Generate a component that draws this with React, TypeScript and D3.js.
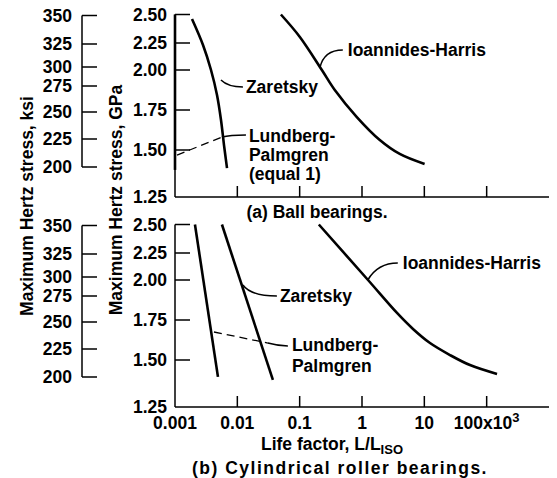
import React from "react";
import * as d3 from "d3";

const W = 557;
const H = 478;

// Axis ticks
const lifeTicks = [0.001, 0.01, 0.1, 1, 10, 100];
const lifeTickLabels = ["0.001", "0.01", "0.1", "1", "10", "100x10"];
const gpaTicks = [1.25, 1.5, 1.75, 2.0, 2.25, 2.5];
const gpaTickLabels = ["1.25", "1.50", "1.75", "2.00", "2.25", "2.50"];
const ksiTicks = [200, 225, 250, 275, 300, 325, 350];

// (a) Ball bearings
const ballZaretskyLife = [0.001874, 0.002813, 0.003781, 0.004719, 0.00547, 0.00611, 0.00683];
const ballZaretskyStress = [2.46, 2.231, 2.0, 1.844, 1.6875, 1.531, 1.404];
const ballLPLife = [0.001, 0.001];
const ballLPStress = [2.5, 1.394];
const ballIHLife = [0.05, 0.1007, 0.227, 0.366, 0.826, 1.93, 4.03, 10.1];
const ballIHStress = [2.5, 2.303, 2.0, 1.875, 1.706, 1.5625, 1.479, 1.4255];

// (b) Cylindrical roller bearings
const rollerLPLife = [0.00209, 0.00489];
const rollerLPStress = [2.5, 1.41];
const rollerZaretskyLife = [0.00566, 0.0372];
const rollerZaretskyStress = [2.5, 1.394];
const rollerIHLife = [0.203, 1.249, 3.645, 6.58, 12.33, 25.8, 54.0, 146.6];
const rollerIHStress = [2.5, 2.0, 1.794, 1.694, 1.606, 1.531, 1.473, 1.426];

type Pt = [number, number];
type Note = { dash?: Pt[]; solid: Pt[]; textAt: number; lines: [string, number][] };

const ballNotes: Note[] = [
  { solid: [[0.00546, 1.9375], [0.00707, 1.894], [0.01229, 1.894]], textAt: 0.01374, lines: [["Zaretsky", 1.894]] },
  {
    dash: [[0.001077, 1.473], [0.00566, 1.581]],
    solid: [[0.00566, 1.581], [0.00761, 1.594], [0.01374, 1.594]],
    textAt: 0.01534,
    lines: [["Lundberg-", 1.5906], ["Palmgren", 1.4734], ["(equal 1)", 1.3697]],
  },
  { solid: [[0.2108, 2.019], [0.2443, 2.185], [0.4922, 2.185]], textAt: 0.5922, lines: [["Ioannides-Harris", 2.185]] },
];

const rollerNotes: Note[] = [
  { solid: [[1.239, 2.0], [1.79, 2.157], [3.75, 2.157]], textAt: 4.51, lines: [["Ioannides-Harris", 2.157]] },
  { solid: [[0.01229, 1.969], [0.0165, 1.9], [0.04311, 1.9]], textAt: 0.04816, lines: [["Zaretsky", 1.9]] },
  {
    dash: [[0.004217, 1.675], [0.0309, 1.606]],
    solid: [[0.0309, 1.606], [0.04473, 1.588], [0.0647, 1.588]],
    textAt: 0.075,
    lines: [["Lundberg-", 1.591], ["Palmgren", 1.4707]],
  },
];

const FONT = "'Liberation Sans', Arial, Helvetica, sans-serif";
const FS = 17.5;

const xScale = d3.scaleLog().domain([0.001, 1000]).range([175, 549]);
const yScale = d3.scaleLinear().domain(gpaTicks).range([197, 150, 110, 70, 43, 14.5]);
const ksiScale = d3.scaleLinear().domain(ksiTicks).range([167, 139, 112, 86, 67, 44, 15.5]);

const line = d3
  .line<Pt>()
  .x((d) => xScale(d[0]))
  .y((d) => yScale(d[1]))
  .curve(d3.curveCatmullRom.alpha(0.5));

const zip = (a: number[], b: number[]): Pt[] => a.map((v, i) => [v, b[i]]);

function Panel({ offset, series, notes, showXLabels }: { offset: number; series: Pt[][]; notes: Note[]; showXLabels: boolean }) {
  const [x0, x1] = xScale.range();
  const yBottom = yScale(gpaTicks[0]);
  const yTop = yScale(gpaTicks[gpaTicks.length - 1]);
  const px = (p: Pt) => `${xScale(p[0])},${yScale(p[1])}`;
  return (
    <g transform={`translate(0,${offset})`}>
      {/* ksi axis */}
      <line x1={82} x2={82} y1={ksiScale(200)} y2={ksiScale(350)} stroke="#000" strokeWidth={1.5} />
      {ksiTicks.map((t) => (
        <g key={t}>
          <line x1={82} x2={97} y1={ksiScale(t)} y2={ksiScale(t)} stroke="#000" strokeWidth={1.5} />
          <text x={72} y={ksiScale(t)} textAnchor="end" dominantBaseline="central" fontSize={FS} fontWeight="bold">
            {t}
          </text>
        </g>
      ))}
      {/* GPa axis */}
      <line x1={x0} x2={x0} y1={yBottom} y2={yTop} stroke="#000" strokeWidth={1.5} />
      {gpaTicks.map((t, i) => (
        <g key={t}>
          {i > 0 && <line x1={x0} x2={x0 + 15} y1={yScale(t)} y2={yScale(t)} stroke="#000" strokeWidth={1.5} />}
          <text x={167} y={yScale(t)} textAnchor="end" dominantBaseline="central" fontSize={FS} fontWeight="bold">
            {gpaTickLabels[i]}
          </text>
        </g>
      ))}
      {/* life axis */}
      <line x1={x0} x2={x1} y1={yBottom} y2={yBottom} stroke="#000" strokeWidth={1.5} />
      {lifeTicks.map((t, i) => (
        <g key={t}>
          {i > 0 && <line x1={xScale(t)} x2={xScale(t)} y1={yBottom} y2={yBottom - 11} stroke="#000" strokeWidth={1.5} />}
          {showXLabels && (
            <text x={xScale(t)} y={yBottom + 22} textAnchor="middle" fontSize={FS} fontWeight="bold">
              {lifeTickLabels[i]}
              {i === lifeTicks.length - 1 && (
                <tspan dy={-7} fontSize={13}>
                  3
                </tspan>
              )}
            </text>
          )}
        </g>
      ))}
      {/* curves */}
      {series.map((s, i) => (
        <path key={i} d={line(s) || ""} fill="none" stroke="#000" strokeWidth={2.6} strokeLinecap="butt" />
      ))}
      {/* annotations */}
      {notes.map((n, i) => (
        <g key={i}>
          {n.dash && (
            <path d={`M${px(n.dash[0])}L${px(n.dash[1])}`} fill="none" stroke="#000" strokeWidth={1.3} strokeDasharray="8,5" />
          )}
          <path d={`M${px(n.solid[0])}Q${px(n.solid[1])} ${px(n.solid[2])}`} fill="none" stroke="#000" strokeWidth={1.5} />
          {n.lines.map(([txt, s], j) => (
            <text key={j} x={xScale(n.textAt)} y={yScale(s)} dominantBaseline="central" fontSize={FS} fontWeight="bold">
              {txt}
            </text>
          ))}
        </g>
      ))}
    </g>
  );
}

export default function App() {
  const ballSeries = [
    zip(ballZaretskyLife, ballZaretskyStress),
    zip(ballLPLife, ballLPStress),
    zip(ballIHLife, ballIHStress),
  ];
  const rollerSeries = [
    zip(rollerLPLife, rollerLPStress),
    zip(rollerZaretskyLife, rollerZaretskyStress),
    zip(rollerIHLife, rollerIHStress),
  ];
  return (
    <svg
      width={W}
      height={H}
      style={{ position: "absolute", left: 0, top: 0, background: "#fff" }}
      fontFamily={FONT}
    >
      <rect width={W} height={H} fill="#fff" />
      <Panel offset={0} series={ballSeries} notes={ballNotes} showXLabels={false} />
      <text x={317} y={218} textAnchor="middle" fontSize={FS} fontWeight="bold">
        (a) Ball bearings.
      </text>
      <Panel offset={210} series={rollerSeries} notes={rollerNotes} showXLabels={true} />
      <text x={332} y={450} textAnchor="middle" fontSize={FS} fontWeight="bold">
        Life factor, L/L
        <tspan dy={4} fontSize={13}>
          ISO
        </tspan>
      </text>
      <text x={340} y={474} textAnchor="middle" fontSize={FS} fontWeight="bold" letterSpacing={1.5}>
        (b) Cylindrical roller bearings.
      </text>
      <text transform="translate(33,206) rotate(-90)" textAnchor="middle" fontSize={FS} fontWeight="bold">
        Maximum Hertz stress, ksi
      </text>
      <text transform="translate(122,200) rotate(-90)" textAnchor="middle" fontSize={FS} fontWeight="bold">
        Maximum Hertz stress, GPa
      </text>
    </svg>
  );
}
